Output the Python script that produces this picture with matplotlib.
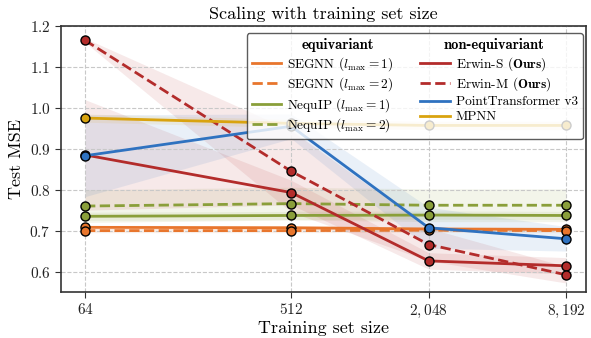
import numpy as np
import matplotlib
matplotlib.use("Agg")
import matplotlib.pyplot as plt
from matplotlib.lines import Line2D

plt.rcParams.update({
    "font.family": "cmr10",
    "mathtext.fontset": "cm",
    "axes.formatter.use_mathtext": True,
    "axes.unicode_minus": False,
})

# Training set sizes and tick labels
sizes = [64, 512, 2048, 8192]
size_labels = [r"$64$", r"$512$", r"$2,048$", r"$8,192$"]
yticks = [0.6, 0.7, 0.8, 0.9, 1.0, 1.1, 1.2]

# Test MSE (mean) per model
segnn_l1 = [0.708, 0.707, 0.704, 0.703]
segnn_l2 = [0.700, 0.700, 0.701, 0.700]
nequip_l1 = [0.735, 0.737, 0.738, 0.737]
nequip_l2 = [0.760, 0.766, 0.762, 0.762]
erwin_s = [0.885, 0.793, 0.626, 0.614]
erwin_m = [1.165, 0.845, 0.666, 0.592]
ptv3 = [0.883, 0.955, 0.707, 0.680]
mpnn = [0.975, 0.962, 0.957, 0.957]

# Spread across seeds
segnn_l1_sd = [0.005, 0.005, 0.005, 0.005]
segnn_l2_sd = [0.005, 0.005, 0.005, 0.005]
nequip_l1_sd = [0.01, 0.01, 0.01, 0.01]
nequip_l2_sd = [0.04, 0.04, 0.04, 0.04]
erwin_s_sd = [0.135, 0.03, 0.02, 0.02]
erwin_m_sd = [0.005, 0.10, 0.04, 0.02]
ptv3_sd = [0.10, 0.03, 0.05, 0.03]
mpnn_sd = [0.01, 0.01, 0.01, 0.01]

ORANGE = "#E8762D"
GREEN = "#8A9F3A"
RED = "#B32C2B"
BLUE = "#2F72C0"
GOLD = "#D9A30F"

series = [
    (r"SEGNN ($l_{\max} = 1$)", segnn_l1, segnn_l1_sd, ORANGE, "-"),
    (r"SEGNN ($l_{\max} = 2$)", segnn_l2, segnn_l2_sd, ORANGE, "--"),
    (r"NequIP ($l_{\max} = 1$)", nequip_l1, nequip_l1_sd, GREEN, "-"),
    (r"NequIP ($l_{\max} = 2$)", nequip_l2, nequip_l2_sd, GREEN, "--"),
    (r"Erwin-S ($\mathbf{Ours}$)", erwin_s, erwin_s_sd, RED, "-"),
    (r"Erwin-M ($\mathbf{Ours}$)", erwin_m, erwin_m_sd, RED, "--"),
    ("PointTransformer v3", ptv3, ptv3_sd, BLUE, "-"),
    ("MPNN", mpnn, mpnn_sd, GOLD, "-"),
]

fig = plt.figure(figsize=(5.91, 3.38), dpi=100)
ax = fig.add_axes([61 / 591, 1 - 292 / 338, 525 / 591, 266 / 338])

ax.set_xscale("log", base=2)
legend_lines = {}
for label, mean, sd, color, ls in series:
    m = np.array(mean)
    s = np.array(sd)
    ax.fill_between(sizes, m - s, m + s, color=color, alpha=0.1, lw=0, zorder=1)
    ax.plot(sizes, mean, color=color, ls=ls, lw=2, marker="o", ms=6.5,
            mec="black", mew=1.0, zorder=3)
    legend_lines[label] = Line2D([], [], color=color, ls=ls, lw=2)

ax.set_xlim(2 ** 5.65, 2 ** 13.29)
ax.set_ylim(0.55, 1.2)
ax.set_xticks(sizes)
ax.set_xticklabels(size_labels)
ax.minorticks_off()
ax.set_yticks(yticks)
ax.set_yticklabels([f"${v:.1f}$" for v in yticks])
ax.tick_params(labelsize=11, colors="#333333", labelcolor="#222222", length=4)
ax.grid(True, ls="--", color="#c8c8c8", lw=0.8)
for sp in ax.spines.values():
    sp.set_color("#333333")
    sp.set_linewidth(1.2)

ax.set_title("Scaling with training set size", fontsize=13, pad=5)
ax.set_xlabel("Training set size", fontsize=13, labelpad=1)
ax.set_ylabel("Test MSE", fontsize=13, labelpad=4)

# Two-column legend with a bold group header on each column
blank = Line2D([], [], color="none")
labels = [s[0] for s in series]
leg_handles = ([blank] + [legend_lines[l] for l in labels[:4]]
               + [blank] + [legend_lines[l] for l in labels[4:]])
leg_labels = ["equivariant"] + labels[:4] + ["non-equivariant"] + labels[4:]
leg = ax.legend(leg_handles, leg_labels, ncol=2, loc="upper right",
                bbox_to_anchor=(1.0 - 3 / 525, 1.0 - 7 / 266), borderaxespad=0,
                fontsize=9.6, handlelength=2.2, handletextpad=0.45,
                columnspacing=2.0, labelspacing=0.2, frameon=True,
                fancybox=True, edgecolor="#333333", framealpha=0.8,
                borderpad=0.4)
leg.get_frame().set_linewidth(1.0)
texts = leg.get_texts()
for idx, dx in ((0, 14), (5, -12)):
    texts[idx].set_fontfamily("cmb10")
    texts[idx].set_fontsize(10.5)
    texts[idx].set_x(dx)

fig.savefig("out.png", dpi=100)
